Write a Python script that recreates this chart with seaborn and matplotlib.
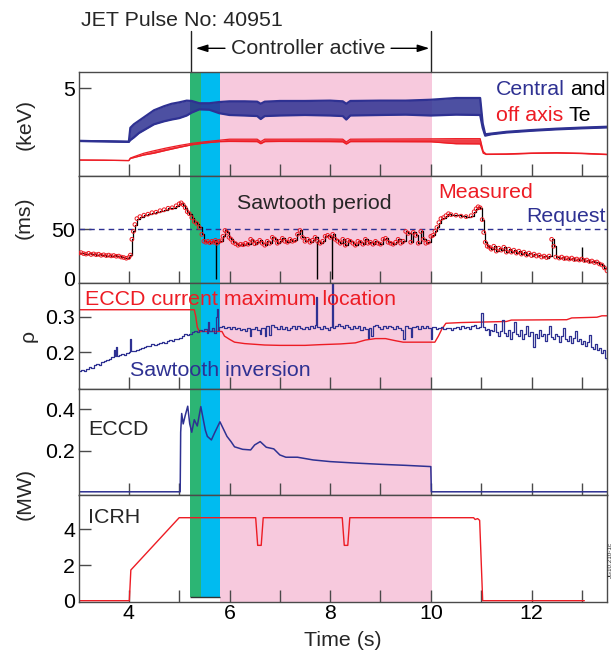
import numpy as np
import pandas as pd
import matplotlib
matplotlib.use("Agg")
import matplotlib.pyplot as plt
import matplotlib.transforms as mtransforms
import seaborn as sns

# ---------------- data ----------------
# Panel 1: central Te (sawtooth band envelope) and off-axis Te, keV
te_c_t = [3.0, 3.5, 4.0, 4.03, 4.1, 4.2, 4.35, 4.5, 4.7, 4.85, 5.0, 5.15, 5.25, 5.4, 5.6, 5.8, 6.0, 6.3,
          6.55, 6.62, 6.7, 7.0, 7.5, 8.0, 8.25, 8.32, 8.4, 9.0, 9.5, 10.0, 10.5, 10.98, 11.03, 11.08,
          11.2, 11.5, 12.0, 12.5, 13.0, 13.5]
te_c_hi = [2.0, 1.98, 1.95, 2.75, 2.95, 3.15, 3.45, 3.75, 3.98, 4.12, 4.2, 4.3, 4.28, 4.15, 4.15, 4.22, 4.26, 4.26,
           4.24, 4.12, 4.24, 4.28, 4.28, 4.3, 4.26, 4.12, 4.28, 4.3, 4.3, 4.35, 4.45, 4.45, 3.0, 2.38,
           2.42, 2.52, 2.62, 2.7, 2.76, 2.81]
te_c_lo = [2.0, 1.98, 1.95, 2.05, 2.2, 2.45, 2.7, 2.95, 3.12, 3.22, 3.3, 3.45, 3.62, 3.8, 3.78, 3.58, 3.48, 3.45,
           3.42, 3.25, 3.42, 3.45, 3.48, 3.45, 3.42, 3.22, 3.45, 3.48, 3.5, 3.45, 3.5, 3.48, 2.75, 2.3,
           2.38, 2.48, 2.58, 2.66, 2.72, 2.77]
te_o_t = [3.0, 3.5, 4.0, 4.03, 4.1, 4.3, 4.5, 4.75, 5.0, 5.25, 5.5, 5.8, 6.0, 6.55, 6.62, 6.7, 7.0, 8.0,
          8.25, 8.32, 8.4, 9.0, 10.0, 10.5, 10.98, 11.04, 11.1, 11.5, 12.0, 12.5, 13.0, 13.5]
te_o_hi = [0.91, 0.9, 0.88, 1.02, 1.1, 1.3, 1.44, 1.6, 1.74, 1.86, 1.95, 2.04, 2.1, 2.1, 1.96, 2.1, 2.1, 2.11,
           2.1, 1.94, 2.1, 2.11, 2.12, 2.13, 2.13, 1.4, 1.25, 1.26, 1.31, 1.33, 1.3, 1.24]
te_o_lo = [0.91, 0.9, 0.88, 1.0, 1.05, 1.2, 1.3, 1.47, 1.63, 1.78, 1.88, 1.96, 1.97, 1.96, 1.84, 1.96, 1.97, 1.96,
           1.95, 1.82, 1.96, 1.96, 1.95, 1.84, 1.83, 1.3, 1.23, 1.24, 1.29, 1.31, 1.28, 1.22]

# Panel 2: sawtooth period (ms), measured points, and request
st_t = [3.00, 3.05, 3.10, 3.15, 3.20, 3.25, 3.30, 3.35, 3.40, 3.45, 3.50, 3.55, 3.60, 3.65, 3.70, 3.75, 3.80,
        3.85, 3.90, 3.95, 4.00, 4.03, 4.06, 4.09, 4.12, 4.16, 4.22, 4.30, 4.38, 4.46, 4.54, 4.62, 4.70, 4.78,
        4.86, 4.94, 5.00, 5.04, 5.08, 5.12, 5.16, 5.20, 5.25, 5.30, 5.35, 5.40, 5.45, 5.49, 5.53, 5.57, 5.61,
        5.65, 5.69, 5.72, 5.75, 5.79, 5.83, 5.87, 5.91, 5.95, 5.99, 6.03, 6.07, 6.12, 6.17, 6.22, 6.27, 6.32,
        6.37, 6.42, 6.46, 6.50, 6.55, 6.60, 6.65, 6.70, 6.75, 6.80, 6.85, 6.90, 6.95, 7.00, 7.05, 7.10, 7.15,
        7.20, 7.25, 7.30, 7.35, 7.40, 7.45, 7.50, 7.55, 7.60, 7.65, 7.70, 7.75, 7.80, 7.85, 7.90, 7.95, 8.00,
        8.05, 8.10, 8.15, 8.20, 8.25, 8.30, 8.35, 8.40, 8.45, 8.50, 8.55, 8.60, 8.65, 8.70, 8.75, 8.80, 8.85,
        8.90, 8.95, 9.00, 9.05, 9.10, 9.15, 9.20, 9.25, 9.30, 9.35, 9.40, 9.45, 9.50, 9.55, 9.60, 9.65, 9.70,
        9.75, 9.80, 9.85, 9.90, 9.95, 10.00, 10.04, 10.08, 10.12, 10.16, 10.20, 10.25, 10.30, 10.35, 10.40,
        10.50, 10.60, 10.70, 10.80, 10.86, 10.90, 10.94, 10.98, 11.02, 11.05, 11.08, 11.12, 11.16, 11.20,
        11.25, 11.30, 11.35, 11.40, 11.45, 11.50, 11.55, 11.60, 11.65, 11.70, 11.75, 11.80, 11.85, 11.90,
        11.95, 12.00, 12.05, 12.10, 12.15, 12.20, 12.25, 12.30, 12.35, 12.40, 12.44, 12.48, 12.55, 12.60,
        12.65, 12.70, 12.75, 12.80, 12.85, 12.90, 12.95, 13.00, 13.05, 13.10, 13.15, 13.20, 13.25, 13.30,
        13.35, 13.40, 13.45, 13.50]
st_ms = [26.0, 26.5, 25.5, 25.0, 25.8, 24.6, 25.2, 24.4, 24.9, 23.8, 24.3, 23.5, 24.0, 23.2, 23.6, 22.8, 23.0,
         22.0, 21.5, 20.8, 21.6, 24.0, 40.0, 48.0, 55.0, 61.0, 63.0, 64.5, 65.5, 67.0, 67.5, 69.0, 70.0, 71.5,
         72.0, 74.0, 76.0, 77.0, 75.0, 72.0, 68.0, 66.0, 62.0, 58.0, 56.0, 52.0, 45.0, 38.0, 37.0, 38.0, 36.5,
         38.0, 37.0, 39.0, 36.0, 38.0, 38.5, 43.0, 49.0, 47.0, 42.0, 40.0, 37.0, 35.5, 34.0, 35.0, 34.5, 36.0,
         35.0, 40.0, 38.0, 35.5, 37.0, 39.0, 36.0, 34.0, 38.0, 36.0, 42.0, 40.0, 36.0, 38.0, 41.0, 38.0, 37.0,
         40.0, 38.0, 39.0, 45.0, 49.0, 42.0, 38.0, 40.0, 37.0, 39.0, 42.0, 38.0, 36.0, 38.0, 43.0, 44.0, 42.0,
         45.0, 40.0, 38.0, 36.0, 40.0, 34.0, 39.0, 38.0, 36.0, 34.0, 38.0, 37.0, 35.0, 40.0, 36.0, 37.0, 35.0,
         38.0, 36.0, 35.0, 40.0, 41.0, 37.0, 36.0, 35.0, 37.0, 40.0, 36.0, 38.0, 48.0, 46.0, 37.0, 47.0, 44.0,
         36.0, 48.0, 40.0, 36.0, 37.0, 43.0, 44.0, 48.0, 52.0, 57.0, 61.0, 62.0, 64.0, 66.0, 65.0,
         64.5, 63.5, 63.0, 64.0, 68.0, 71.0, 73.0, 72.0, 60.0, 47.0, 37.0, 33.0, 32.0, 30.0,
         33.0, 28.0, 31.0, 29.0, 32.0, 27.0, 30.0, 27.0, 29.0, 26.0, 28.0, 25.0, 27.0, 24.0,
         26.0, 23.5, 25.0, 23.0, 24.0, 22.0, 23.0, 21.5, 23.0, 40.0, 33.0, 22.0, 21.0, 22.0,
         20.5, 21.0, 20.0, 21.0, 19.5, 20.0, 19.0, 20.0, 18.5, 19.0, 17.5, 18.0, 16.5, 17.0,
         15.0, 14.0, 11.0, 8.0]
spike_t = [5.74, 7.73, 8.04, 13.0]
spike_from = [37.0, 38.0, 42.0, 20.0]
spike_to = [0.0, 0.0, 0.0, 32.0]
request_t = [3.0, 13.5]
request_ms = [50.0, 50.0]

# Panel 3: rho of sawtooth inversion and ECCD current maximum location
inv_t = [3.00, 3.05, 3.10, 3.15, 3.20, 3.25, 3.30, 3.35, 3.40, 3.45, 3.50, 3.55, 3.60, 3.65, 3.70, 3.72, 3.75,
         3.77, 3.80, 3.85, 3.90, 3.95, 4.00, 4.03, 4.05, 4.10, 4.15, 4.20, 4.25, 4.30, 4.35, 4.40, 4.45, 4.50,
         4.55, 4.60, 4.65, 4.70, 4.75, 4.80, 4.85, 4.90, 4.95, 5.00, 5.05, 5.10, 5.15, 5.20, 5.25, 5.30, 5.35,
         5.40, 5.45, 5.50, 5.55, 5.58, 5.60, 5.65, 5.70, 5.73, 5.75, 5.77, 5.80, 5.85, 5.90, 5.95, 6.00, 6.05,
         6.10, 6.15, 6.20, 6.25, 6.30, 6.35, 6.40, 6.43, 6.50, 6.55, 6.60, 6.63, 6.70, 6.73, 6.78, 6.82, 6.88,
         6.95, 7.00, 7.05, 7.10, 7.15, 7.20, 7.25, 7.30, 7.35, 7.40, 7.45, 7.50, 7.55, 7.60, 7.65, 7.70, 7.72,
         7.74, 7.80, 7.85, 7.90, 7.95, 8.00, 8.03, 8.06, 8.10, 8.15, 8.20, 8.25, 8.30, 8.35, 8.40, 8.45, 8.50,
         8.55, 8.60, 8.65, 8.70, 8.75, 8.78, 8.82, 8.85, 8.90, 8.95, 9.00, 9.05, 9.10, 9.15, 9.20, 9.25, 9.30,
         9.35, 9.40, 9.45, 9.48, 9.55, 9.60, 9.63, 9.70, 9.75, 9.80, 9.85, 9.90, 9.95, 10.00, 10.03, 10.10,
         10.15, 10.20, 10.25, 10.30, 10.40, 10.45, 10.50, 10.55, 10.60, 10.65, 10.70, 10.75, 10.80, 10.85,
         10.90, 10.95, 11.00, 11.03, 11.08, 11.12, 11.15, 11.18, 11.22, 11.26, 11.30, 11.34, 11.38, 11.42,
         11.46, 11.50, 11.54, 11.58, 11.62, 11.66, 11.70, 11.74, 11.78, 11.82, 11.86, 11.90, 11.94, 11.98,
         12.02, 12.06, 12.10, 12.14, 12.18, 12.22, 12.26, 12.30, 12.34, 12.38, 12.42, 12.46, 12.50, 12.54,
         12.58, 12.62, 12.66, 12.70, 12.74, 12.78, 12.82, 12.86, 12.90, 12.94, 12.98, 13.02, 13.06, 13.10,
         13.14, 13.18, 13.22, 13.26, 13.30, 13.34, 13.38, 13.42, 13.46, 13.50]
inv_rho = [.146, .150, .148, .153, .158, .156, .163, .166, .164, .172, .175, .178, .182, .186, .205, .188, .215,
           .190, .193, .196, .192, .198, .200, .238, .202, .204, .207, .209, .212, .214, .216, .218, .222, .220,
           .224, .226, .229, .227, .231, .233, .232, .236, .238, .241, .244, .250, .248, .252, .257, .259, .256,
           .262, .258, .264, .255, .285, .258, .268, .255, .300, .320, .262, .270, .274, .268, .271, .266, .270,
           .264, .268, .262, .266, .258, .268, .244, .266, .270, .262, .250, .268, .244, .272, .248, .276, .270,
           .266, .272, .265, .270, .262, .268, .274, .266, .272, .268, .264, .270, .266, .272, .268, .275, .355,
           .270, .266, .272, .268, .262, .270, .394, .268, .274, .280, .272, .268, .275, .270, .266, .272, .268,
           .274, .262, .270, .266, .240, .268, .244, .274, .276, .270, .266, .272, .268, .274, .270, .266, .272,
           .268, .262, .236, .272, .268, .242, .270, .274, .266, .272, .268, .274, .268, .238, .270, .266,
           .268, .270, .266, .268, .262, .268, .270, .264, .272, .268, .270, .266, .272, .276,
           .268, .270, .310, .270, .262, .264, .248, .262, .258, .280, .256, .244, .258, .290,
           .254, .246, .262, .238, .256, .284, .250, .244, .262, .236, .250, .274, .246, .256,
           .214, .252, .240, .262, .244, .250, .232, .250, .272, .242, .236, .252, .244, .228,
           .246, .268, .238, .232, .246, .226, .240, .260, .230, .236, .222, .232, .218, .228,
           .248, .214, .210, .222, .206, .212, .198, .205, .184, .178]
loc_t = [3.0, 5.30, 5.33, 5.36, 5.40, 5.85, 5.90, 6.0, 6.1, 6.3, 6.7, 7.0, 7.5, 7.8, 8.2, 8.5, 8.7, 8.9,
         9.1, 9.3, 9.45, 10.08, 10.15, 10.22, 10.30, 10.6, 11.2, 11.5, 11.6, 12.7, 12.8, 13.3, 13.4, 13.5]
loc_rho = [.319, .319, .300, .270, .258, .258, .245, .236, .228, .224, .220, .219, .219, .221, .223, .226, .234,
           .238, .238, .232, .228, .228, .245, .265, .281, .283, .285, .286, .290, .291, .296, .298, .302, .302]

# Panel 4: ECCD power (MW)
eccd_t = [3.0, 5.02, 5.03, 5.05, 5.08, 5.12, 5.17, 5.21, 5.25, 5.30, 5.36, 5.43, 5.48, 5.52, 5.56, 5.64,
          5.71, 5.81, 5.87, 5.95, 6.03, 6.10, 6.26, 6.42, 6.50, 6.61, 6.73, 6.88, 7.00, 7.12, 7.35, 7.66,
          8.00, 8.50, 9.00, 9.50, 10.00, 10.01, 13.5]
eccd_mw = [0.004, 0.004, 0.29, 0.38, 0.33, 0.37, 0.415, 0.33, 0.29, 0.35, 0.32, 0.413, 0.35, 0.30, 0.27, 0.253,
           0.29, 0.34, 0.31, 0.27, 0.245, 0.22, 0.208, 0.205, 0.229, 0.245, 0.218, 0.21, 0.181, 0.17, 0.17, 0.157,
           0.149, 0.142, 0.136, 0.131, 0.125, 0.004, 0.004]

# Panel 5: ICRH power (MW)
icrh_t = [3.0, 4.01, 4.04, 5.0, 6.52, 6.56, 6.63, 6.67, 8.24, 8.28, 8.35, 8.39, 10.85, 10.88, 10.93, 10.97,
          11.03, 13.05]
icrh_mw = [0.0, 0.0, 1.72, 4.65, 4.65, 3.1, 3.1, 4.65, 4.65, 3.1, 3.1, 4.65, 4.65, 4.55, 4.6, 4.5, 0.0, 0.0]

# Shaded phases (s)
phase_edges = [5.22, 5.44, 5.81, 10.02]
ctrl_on, ctrl_off = 5.23, 10.0

# ---------------- style ----------------
BLUE = "#2E3192"
RED = "#ED1C24"
PINK = "#F7C9DD"
GREEN = "#2CB574"
CYAN = "#00BBF0"
FRAME = "#4a4a4a"
FS = 15.4

sns.set_theme(style="white")
plt.rcParams["font.family"] = ["Liberation Sans", "DejaVu Sans"]
plt.rcParams["font.size"] = FS

W, H = 614, 653
def fx(x):
    return x / W
def fy(y):
    return 1 - y / H

fig = plt.figure(figsize=(6.14, 6.53), dpi=100)
left, right = 78.5, 607.0
panels_px = [(71.7, 176.0), (176.0, 283.0), (283.0, 388.5), (388.5, 494.5), (494.5, 601.5)]
ylims = [(0, 5.95), (-4.3, 104.2), (0.098, 0.394), (-0.009, 0.5), (-0.045, 5.95)]
yticks = [[5], [0, 50], [0.2, 0.3], [0.2, 0.4], [0, 2, 4]]
yticklabels = [["5"], ["0", "50"], ["0.2", "0.3"], ["0.2", "0.4"], ["0", "2", "4"]]

axes = []
for i, (top, bot) in enumerate(panels_px):
    ax = fig.add_axes([fx(left), fy(bot), fx(right) - fx(left), (bot - top) / H])
    ax.set_facecolor("white")
    ax.set_xlim(3, 13.5)
    ax.set_ylim(*ylims[i])
    for s in ax.spines.values():
        s.set_color(FRAME)
        s.set_linewidth(1.0)
        s.set_visible(True)
    ax.set_xticks(range(4, 14))
    ax.tick_params(axis="both", direction="in", length=8.5, width=1.0, color=FRAME,
                   labelsize=FS, pad=2.5, labelcolor="black")
    ax.tick_params(axis="x", bottom=True, top=False, pad=1.5)
    ax.tick_params(axis="y", left=True, right=False)
    ax.set_yticks(yticks[i])
    ax.set_yticklabels(yticklabels[i])
    if i < 4:
        ax.set_xticklabels([])
    else:
        ax.set_xticklabels([str(v) if v % 2 == 0 else "" for v in range(4, 14)])
    # shaded phases
    ymin = 0.0
    if i == 4:
        ymin = (0.19 - ylims[4][0]) / (ylims[4][1] - ylims[4][0])
    ax.axvspan(phase_edges[0], phase_edges[1], ymin=ymin, color=GREEN, lw=0, zorder=0)
    ax.axvspan(phase_edges[1], phase_edges[2], ymin=ymin, color=CYAN, lw=0, zorder=0)
    ax.axvspan(phase_edges[2], phase_edges[3], color=PINK, lw=0, zorder=0)
    axes.append(ax)

ax1, ax2, ax3, ax4, ax5 = axes
# hide tick mark of "0" on panels 2 and 5
ax2.yaxis.get_major_ticks()[0].tick1line.set_visible(False)
ax5.yaxis.get_major_ticks()[0].tick1line.set_visible(False)
ax5.hlines(0.19, phase_edges[0], phase_edges[2], color="#333333", lw=1.0, zorder=1)


def line(ax, x, y, **kw):
    sns.lineplot(x=x, y=y, ax=ax, estimator=None, sort=False, legend=False, **kw)


# Panel 1
ax1.fill_between(te_c_t, te_c_lo, te_c_hi, color=BLUE, lw=0, alpha=0.85, zorder=2)
line(ax1, te_c_t, te_c_hi, color=BLUE, lw=1.6)
line(ax1, te_c_t, te_c_lo, color=BLUE, lw=1.6)
ax1.fill_between(te_o_t, te_o_lo, te_o_hi, color=RED, lw=0, alpha=0.85, zorder=2)
line(ax1, te_o_t, te_o_hi, color=RED, lw=0.9)
line(ax1, te_o_t, te_o_lo, color=RED, lw=0.9)

# Panel 2
line(ax2, request_t, request_ms, color=BLUE, lw=1.0, linestyle=(0, (4, 3)))
line(ax2, st_t, st_ms, color="black", lw=0.9, drawstyle="steps-post")
ax2.vlines(spike_t, spike_to, spike_from, color="black", lw=1.0)
sns.scatterplot(x=st_t, y=st_ms, ax=ax2, marker="o", s=7, facecolor="none",
                edgecolor=RED, linewidth=0.7, legend=False, zorder=3)

# Panel 3
line(ax3, loc_t, loc_rho, color=RED, lw=1.0)
line(ax3, inv_t, inv_rho, color=BLUE, lw=0.9, drawstyle="steps-post")

# Panel 4
line(ax4, eccd_t, eccd_mw, color=BLUE, lw=1.1)

# Panel 5
line(ax5, icrh_t, icrh_mw, color=RED, lw=1.0)

for ax in axes:
    ax.set_xlabel("")
    ax.set_ylabel("")

# ---------------- texts ----------------
def ftext(x, y, s, **kw):
    fig.text(fx(x), fy(y), s, fontsize=kw.pop("fontsize", FS), **kw)

ftext(81, 26, "JET Pulse No: 40951", va="baseline", ha="left")
ftext(496, 95, "Central", color=BLUE, va="baseline", ha="left")
ftext(606, 95, "and", color="black", va="baseline", ha="right")
ftext(496, 120.7, "off axis", color=RED, va="baseline", ha="left")
ftext(591, 120.7, "Te", color="black", va="baseline", ha="right")
ftext(237, 209, "Sawtooth period", va="baseline", ha="left")
ftext(438, 197.5, "Measured", color=RED, va="baseline", ha="left")
ftext(606, 222.5, "Request", color=BLUE, va="baseline", ha="right")
ftext(85, 305, "ECCD current maximum location", color=RED, va="baseline", ha="left")
ftext(130, 376, "Sawtooth inversion", color=BLUE, va="baseline", ha="left")
ftext(88, 435, "ECCD", va="baseline", ha="left")
ftext(88, 523, "ICRH", va="baseline", ha="left")
ftext(342.75, 645.5, "Time (s)", va="baseline", ha="center")
ftext(25.5, 124, "(keV)", rotation=90, va="center", ha="center")
ftext(24.5, 217.5, "(ms)", rotation=90, va="center", ha="center")
ftext(28, 336, "ρ", rotation=90, va="center", ha="center")
ftext(25, 494, "(MW)", rotation=90, va="center", ha="center")
ftext(608.2, 560, "JG10.210-1c", rotation=90, va="center", ha="left", fontsize=4.5, color="#333333")

# Controller active marker
trans = mtransforms.blended_transform_factory(ax1.transData, fig.transFigure)
for xv in (ctrl_on, ctrl_off):
    ax1.plot([xv, xv], [fy(31), fy(71.7)], transform=trans, color="#222222", lw=1.0, clip_on=False)
arrow_kw = dict(arrowstyle="-|>,head_length=0.7,head_width=0.22", color="black", lw=1.0,
                shrinkA=0, shrinkB=0, mutation_scale=10)
ax1.annotate("", xy=(5.33, fy(48.3)), xytext=(5.91, fy(48.3)), xycoords=trans, textcoords=trans,
             arrowprops=arrow_kw, annotation_clip=False)
ax1.annotate("", xy=(9.97, fy(48.3)), xytext=(9.21, fy(48.3)), xycoords=trans, textcoords=trans,
             arrowprops=arrow_kw, annotation_clip=False)
ax1.text(7.56, fy(54), "Controller active", transform=trans, ha="center", va="baseline", fontsize=FS)

fig.savefig("out.png", dpi=100)
